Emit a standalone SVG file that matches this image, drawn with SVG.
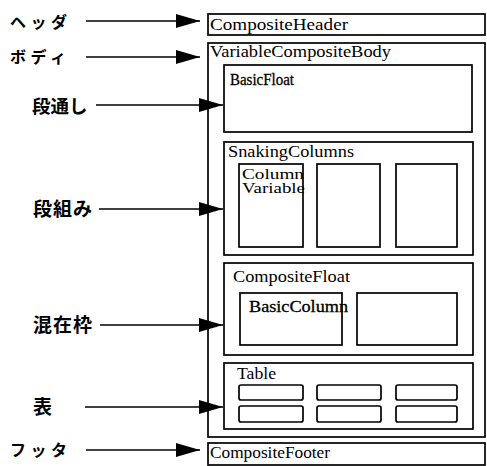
<svg xmlns="http://www.w3.org/2000/svg" width="487" height="466" viewBox="0 0 487 466">
<style>
.box{fill:none;stroke:#000;stroke-width:1.7}
.cell{fill:none;stroke:#000;stroke-width:1.7}
.t{font-family:"Liberation Serif","Times New Roman",serif;font-size:16px;fill:#000}
.j{font-family:"Noto Sans CJK JP","Noto Sans",sans-serif;font-weight:bold;fill:#000}
.k{font-size:16px;letter-spacing:4.5px}
.b{font-size:19px}
.arr{stroke:#000;stroke-width:1.7;fill:none;marker-end:url(#ah)}
</style>
<defs>
<marker id="ah" markerUnits="userSpaceOnUse" markerWidth="24" markerHeight="16" refX="24" refY="8" orient="auto">
<path d="M0,1 L24,8 L0,15 Z" fill="#000"/>
</marker>
</defs>
<rect width="487" height="466" fill="#fff"/>

<g id="connectors">
<line class="arr" x1="86" y1="21" x2="200" y2="21"/>
<line class="arr" x1="86" y1="57" x2="200" y2="57"/>
<line class="arr" x1="96" y1="105" x2="223" y2="105"/>
<line class="arr" x1="99" y1="209" x2="223" y2="209"/>
<line class="arr" x1="100" y1="325" x2="223" y2="325"/>
<line class="arr" x1="85" y1="407" x2="223" y2="407"/>
<line class="arr" x1="86" y1="450" x2="200" y2="450"/>
</g>

<g id="labels">
<text class="j k" x="10" y="27.5">ヘッダ</text>
<text class="j k" x="10" y="62.5">ボディ</text>
<text class="j" x="32" y="113" style="font-size:18.5px">段通し</text>
<text class="j b" x="33" y="215.5" style="letter-spacing:1px">段組み</text>
<text class="j b" x="33" y="331.5" style="letter-spacing:1px">混在枠</text>
<text class="j b" x="33" y="413.5">表</text>
<text class="j k" x="10" y="455.5">フッタ</text>
</g>

<g id="header">
<rect class="box" x="208" y="14" width="277" height="21"/>
<text class="t" x="210" y="30" textLength="138" lengthAdjust="spacingAndGlyphs">CompositeHeader</text>
</g>

<g id="body">
<rect class="box" x="208" y="43" width="277" height="394"/>
<text class="t" x="210" y="57" textLength="181" lengthAdjust="spacingAndGlyphs">VariableCompositeBody</text>
</g>

<g id="basicfloat">
<rect class="box" x="224" y="65" width="248" height="67"/>
<text class="t" x="230" y="85" style="font-size:16.5px;stroke:#000;stroke-width:0.3" textLength="64" lengthAdjust="spacingAndGlyphs">BasicFloat</text>
</g>

<g id="snaking">
<rect class="box" x="224" y="142" width="249" height="113"/>
<text class="t" x="228" y="157" textLength="126" lengthAdjust="spacingAndGlyphs">SnakingColumns</text>
<rect class="box" x="239" y="164" width="64" height="83"/>
<rect class="box" x="317" y="164" width="63" height="83"/>
<rect class="box" x="396" y="164" width="61" height="83"/>
<text class="t" x="242" y="178.5" style="font-size:14.5px" textLength="62" lengthAdjust="spacingAndGlyphs">Column</text>
<text class="t" x="242" y="193" style="font-size:14.5px" textLength="63" lengthAdjust="spacingAndGlyphs">Variable</text>
</g>

<g id="compositefloat">
<rect class="box" x="224" y="263" width="249" height="92"/>
<text class="t" x="233" y="282" textLength="117" lengthAdjust="spacingAndGlyphs">CompositeFloat</text>
<rect class="box" x="240" y="293" width="102" height="52"/>
<rect class="box" x="357" y="293" width="100" height="52"/>
<text class="t" x="249" y="312" style="stroke:#000;stroke-width:0.3" textLength="99" lengthAdjust="spacingAndGlyphs">BasicColumn</text>
</g>

<g id="table">
<rect class="box" x="224" y="363" width="249" height="66"/>
<text class="t" x="237" y="379" textLength="39" lengthAdjust="spacingAndGlyphs">Table</text>
<rect class="cell" x="239" y="385" width="64" height="15" rx="2"/>
<rect class="cell" x="317" y="385" width="64" height="15" rx="2"/>
<rect class="cell" x="396" y="385" width="61" height="15" rx="2"/>
<rect class="cell" x="239" y="406" width="64" height="16" rx="2"/>
<rect class="cell" x="317" y="406" width="64" height="16" rx="2"/>
<rect class="cell" x="396" y="406" width="61" height="16" rx="2"/>
</g>

<g id="footer">
<rect class="box" x="208" y="443" width="277" height="22"/>
<text class="t" x="210" y="458" textLength="120" lengthAdjust="spacingAndGlyphs">CompositeFooter</text>
</g>
</svg>
